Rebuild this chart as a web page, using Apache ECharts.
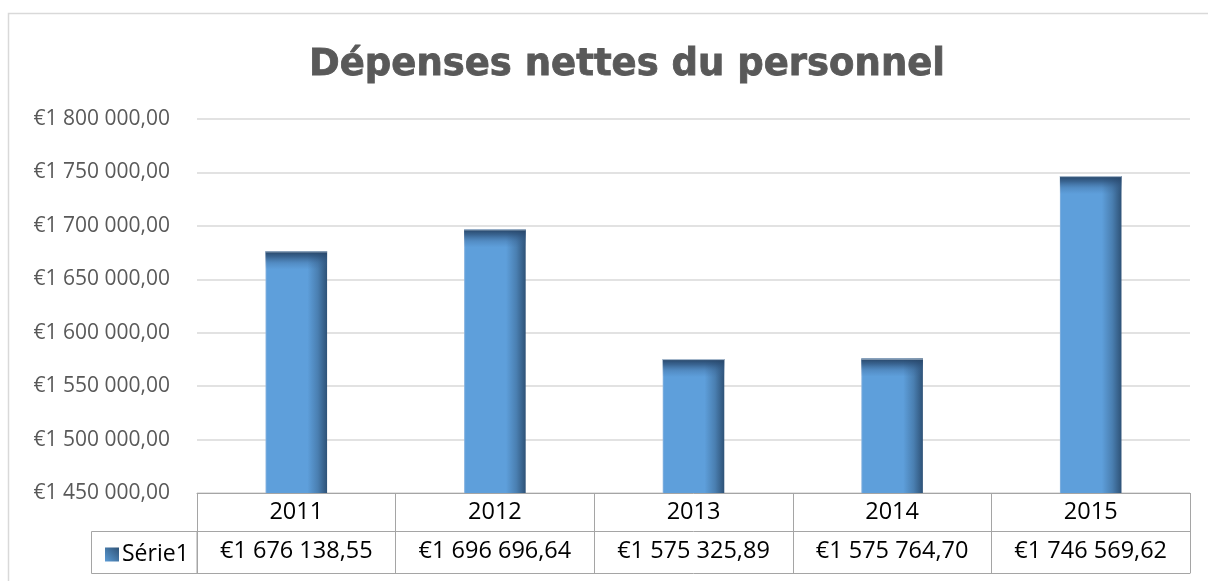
<!DOCTYPE html>
<html>
<head>
<meta charset="utf-8">
<script src="https://cdn.jsdelivr.net/npm/echarts@6/dist/echarts.min.js"></script>
<style>
  html, body { margin: 0; padding: 0; background: #fff; }
  #chart { width: 1208px; height: 581px; }
</style>
</head>
<body>
<div id="chart"></div>
<script>
const years = ['2011', '2012', '2013', '2014', '2015']
const values = [1676138.55, 1696696.64, 1575325.89, 1575764.70, 1746569.62]
const seriesName = 'Série1'
const yMin = 1450000
const yMax = 1800000
const yStep = 50000

// 1234567.8 -> '€1 234 567,80'
function euro(n){
  let parts = n.toFixed(2).split('.')
  let int = parts[0].replace(/\B(?=(\d{3})+(?!\d))/g, ' ')
  return '€' + int + ',' + parts[1]
}

const font = 'Open Sans'
const lineColor = '#A5A5A5'

let chart = echarts.init(document.getElementById('chart'), null, {renderer: 'canvas'})

let option = {
  backgroundColor: '#fff',
  animation: false,
  title: {
    text: 'Dépenses nettes du personnel',
    left: 622,
    textAlign: 'center',
    top: 42,
    textStyle: {
      fontFamily: 'DejaVu Sans',
      fontWeight: 'bold',
      fontSize: 37,
      color: '#595959',
      textBorderColor: '#595959',
      textBorderWidth: 0.8
    }
  },
  legend: {
    left: 100,
    top: 538,
    icon: 'rect',
    itemWidth: 14,
    itemHeight: 14,
    itemGap: 4,
    data: [{
      name: seriesName,
      itemStyle: {
        color: {
          type: 'linear', x: 0, y: 1, x2: 1, y2: 0,
          colorStops: [{offset: 0, color: '#5B9BD5'}, {offset: 1, color: '#2F5377'}]
        }
      }
    }],
    textStyle: { fontFamily: font, fontSize: 23, color: '#000', padding: [0, 0, 0, -2] }
  },
  grid: {
    left: 197,
    right: 18,
    top: 119,
    bottom: 88,
    containLabel: false
  },
  xAxis: [{
    type: 'category',
    data: years,
    position: 'bottom',
    axisLine: { lineStyle: { color: lineColor, width: 1 } },
    axisTick: { show: true, interval: 0, length: 80, lineStyle: { color: lineColor, width: 1 } },
    axisLabel: { margin: 7, fontFamily: font, fontSize: 23.5, color: '#000' },
    splitLine: { show: false }
  }, {
    type: 'category',
    data: values.map(euro),
    position: 'bottom',
    offset: 38,
    axisLine: { lineStyle: { color: lineColor, width: 1 } },
    axisTick: { show: false },
    axisLabel: { margin: 8, fontFamily: font, fontSize: 23.5, color: '#000' }
  }, {
    type: 'category',
    data: years,
    position: 'bottom',
    offset: 80,
    axisLine: { lineStyle: { color: lineColor, width: 1 } },
    axisTick: { show: false },
    axisLabel: { show: false }
  }],
  yAxis: {
    type: 'value',
    min: yMin,
    max: yMax,
    interval: yStep,
    axisLine: { show: false },
    axisTick: { show: false },
    axisLabel: {
      margin: 27,
      fontFamily: font,
      fontSize: 21,
      color: '#595959',
      formatter: v => euro(v)
    },
    splitLine: { lineStyle: { color: '#D9D9D9', width: 1.5 } }
  },
  graphic: [{
    type: 'rect',
    shape: { x: 8.5, y: 13.5, width: 1400, height: 1000 },
    style: { fill: null, stroke: '#D9D9D9', lineWidth: 1.5 },
    silent: true
  }, {
    type: 'rect',
    shape: { x: 91.5, y: 531.5, width: 105.5, height: 42 },
    style: { fill: null, stroke: lineColor, lineWidth: 1 },
    silent: true
  }],
  series: [{
    name: seriesName,
    type: 'custom',
    xAxisIndex: 0,
    itemStyle: { color: '#5B9BD5' },
    data: values.map((v, i) => [i, v]),
    renderItem: function(params, api){
      let top = api.coord([api.value(0), api.value(1)])
      let base = api.coord([api.value(0), yMin])
      let bw = api.size([1, 0])[0] * 0.31
      let x = top[0] - bw / 2
      let h = base[1] - top[1]
      return {
        type: 'group',
        children: [{
          type: 'rect',
          shape: { x: x, y: top[1], width: bw, height: h },
          style: {
            fill: {
              type: 'linear', x: 0, y: 0, x2: 1, y2: 0,
              colorStops: [
                {offset: 0, color: '#8DB6E0'},
                {offset: 0.025, color: '#5E9FDB'},
                {offset: 0.68, color: '#5E9FDB'},
                {offset: 0.85, color: '#4A7FB1'},
                {offset: 1, color: '#2E5277'}
              ]
            }
          }
        }, {
          type: 'rect',
          shape: { x: x, y: top[1], width: bw, height: 18 },
          style: {
            fill: {
              type: 'linear', x: 0, y: 0, x2: 0, y2: 1,
              colorStops: [
                {offset: 0, color: 'rgba(38,68,102,1)'},
                {offset: 0.3, color: 'rgba(45,80,120,0.75)'},
                {offset: 0.65, color: 'rgba(55,95,140,0.3)'},
                {offset: 1, color: 'rgba(60,100,150,0)'}
              ]
            }
          }
        }, {
          type: 'line',
          shape: { x1: x, y1: top[1] + 0.5, x2: x + bw, y2: top[1] + 0.5 },
          style: { stroke: 'rgba(190,205,222,0.9)', lineWidth: 1 }
        }]
      }
    }
  }]
}

chart.setOption(option)
</script>
</body>
</html>
